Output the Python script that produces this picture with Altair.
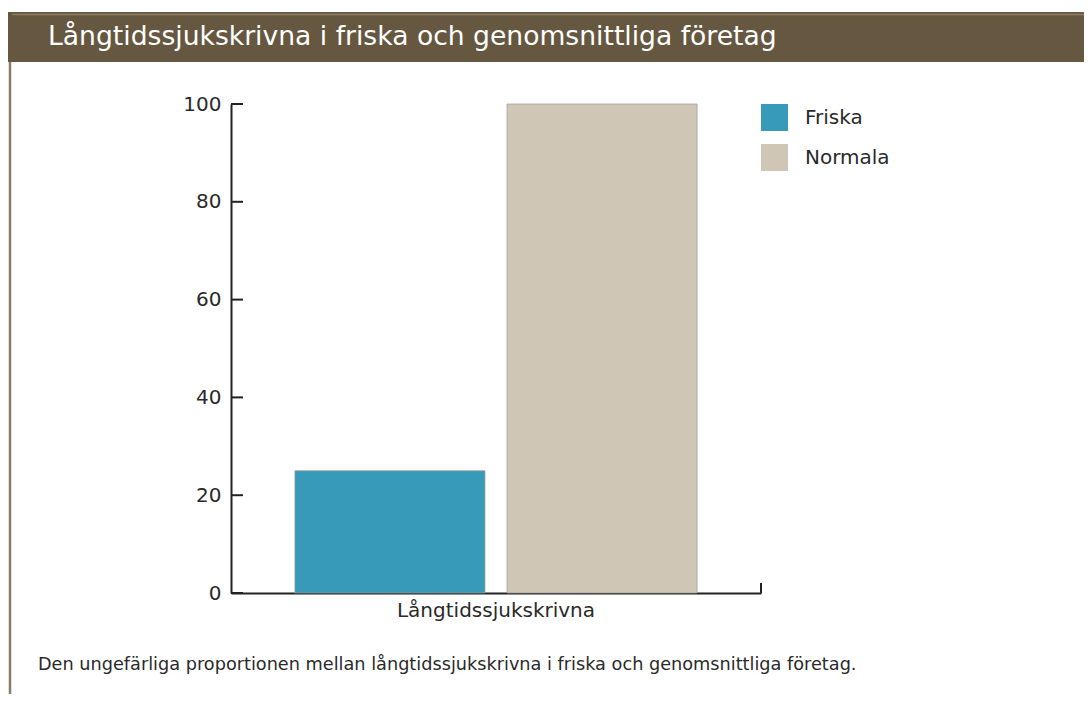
import altair as alt
import pandas as pd

title_text = "Långtidssjukskrivna i friska och genomsnittliga företag"
caption_text = "Den ungefärliga proportionen mellan långtidssjukskrivna i friska och genomsnittliga företag."
category = ["Långtidssjukskrivna", "Långtidssjukskrivna"]
series = ["Friska", "Normala"]
values = [25, 100]
y_ticks = [0, 20, 40, 60, 80, 100]
colors = ["#389ab9", "#cfc6b6"]

FONT = "DejaVu Sans"
W, H = 530, 489
LBL = 20

df = pd.DataFrame({"kategori": category, "serie": series, "varde": values})
ticks_df = pd.DataFrame({"t": y_ticks})
one = alt.Data(values=[{"title": title_text, "caption": caption_text}])

yscale = alt.Scale(domain=[0, 100])

bars = alt.Chart(df).mark_bar(stroke="#999999", strokeWidth=1, strokeOpacity=0.7).encode(
    x=alt.X("kategori:N", title=None,
            scale=alt.Scale(paddingOuter=0.159, paddingInner=0),
            axis=alt.Axis(labelAngle=0, ticks=False, labelFontSize=LBL, labelFont=FONT,
                          labelColor="#2a2a2a", labelPadding=7, labelLimit=1000,
                          domainColor="#222222", domainWidth=2)),
    xOffset=alt.XOffset("serie:N", scale=alt.Scale(paddingInner=0.104)),
    y=alt.Y("varde:Q", title=None, scale=yscale,
            axis=alt.Axis(values=y_ticks, ticks=False, grid=False, labelFontSize=LBL,
                          labelFont=FONT, labelColor="#2a2a2a", labelPadding=10,
                          domainColor="#222222", domainWidth=2)),
    color=alt.Color("serie:N", title=None,
                    scale=alt.Scale(domain=series, range=colors),
                    legend=alt.Legend(orient="none", legendX=W, legendY=0, padding=0,
                                      symbolType="square", symbolSize=729,
                                      symbolStrokeWidth=0, labelFontSize=LBL,
                                      labelFont=FONT, labelColor="#2a2a2a",
                                      labelOffset=17, rowPadding=13)),
)

yticks = alt.Chart(ticks_df).mark_rule(color="#222222", strokeWidth=2).encode(
    y=alt.Y("t:Q", scale=yscale),
    x=alt.value(0),
    x2=alt.value(12),
)

xend_tick = alt.Chart(one).mark_rule(color="#222222", strokeWidth=2).encode(
    x=alt.value(W),
    y=alt.value(H - 10),
    y2=alt.value(H),
)

header = alt.Chart(one).mark_rect(color="#665840").encode(
    x=alt.value(-223), x2=alt.value(861),
    y=alt.value(-92), y2=alt.value(-42),
)
header_line = alt.Chart(one).mark_rule(color="#8c7e66", strokeWidth=1.5).encode(
    x=alt.value(-219), x2=alt.value(861),
    y=alt.value(-89.5),
)
border = alt.Chart(one).mark_rule(color="#8a7c66", strokeWidth=2.5).encode(
    x=alt.value(-221), y=alt.value(-42), y2=alt.value(600),
)

title = alt.Chart(one).mark_text(align="left", baseline="middle", fontSize=26.6,
                                 font=FONT, color="white").encode(
    x=alt.value(-183), y=alt.value(-67), text="title:N",
)
caption = alt.Chart(one).mark_text(align="left", baseline="middle", fontSize=17.7,
                                   font=FONT, color="#2a2a2a").encode(
    x=alt.value(-193), y=alt.value(561), text="caption:N",
)

chart = alt.layer(header, header_line, border, title, caption, bars, yticks, xend_tick).properties(
    width=W, height=H,
    padding={"left": 223, "top": 96, "right": 323, "bottom": 101},
    autosize=alt.AutoSizeParams(type="none"),
).configure_view(stroke=None, clip=False)

chart.save("out.html", embed_options={"renderer": "svg", "actions": False})
